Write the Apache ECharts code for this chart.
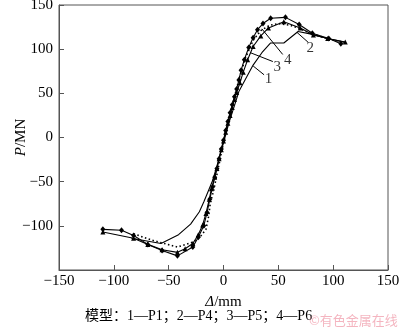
<!DOCTYPE html>
<html>
<head>
<meta charset="utf-8">
<script src="https://cdn.jsdelivr.net/npm/echarts@6/dist/echarts.min.js"></script>
<style>
  html, body { margin: 0; padding: 0; background: #fff; }
  #chart { width: 400px; height: 332px; }
</style>
</head>
<body>
<div id="chart"></div>
<script>
// Load–displacement curves (Δ in mm, P in MN) for the four models
const xTicks = [-150, -100, -50, 0, 50, 100, 150];
const yTicks = [-150, -100, -50, 0, 50, 100, 150];

// Model 1 — P1 (plain solid line)
const p1 = [
  [-84, -114], [-57, -120], [-41, -110], [-30, -98], [-22, -84], [-18, -73],
  [-13, -58], [-10, -49], [-5, -28], [0, -6], [5, 17], [10, 36], [14, 52],
  [20, 66], [27, 82], [35, 96], [43, 107], [55, 107], [68, 120], [80, 117],
  [95, 112], [110, 108]
];
// Model 2 — P4 (dotted line)
const p4 = [
  [-82, -109], [-66, -116], [-42, -124], [-27, -118], [-21, -112], [-16, -104],
  [-13.5, -89], [-12, -74], [-9, -60], [-5, -36], [0, -6], [5, 20], [10, 46],
  [15, 70], [20, 90], [27, 110], [34, 121], [42, 127], [50, 129], [61, 127],
  [70, 123], [79, 118], [95, 112], [108, 108]
];
// Model 3 — P5 (triangles)
const p5 = [
  [-110, -107], [-82, -114], [-69, -121], [-56, -127], [-42, -130], [-35, -126],
  [-28, -120], [-23, -110], [-19, -99], [-16, -86], [-13, -70], [-11, -58],
  [-8, -45], [-6, -35], [-4, -24], [-2, -14], [0, -4], [2, 6], [4, 16], [6, 25],
  [8, 34], [10, 43], [12, 51], [15, 62], [18, 74], [22, 88], [27, 103],
  [34, 115], [41, 124], [55, 131], [70, 124], [82, 116], [95, 112], [111, 108]
];
// Model 4 — P6 (diamonds)
const p6 = [
  [-110, -104], [-93, -105], [-82, -111], [-69, -121], [-56, -128], [-42, -134],
  [-28, -124], [-23, -113], [-18, -100], [-15, -85], [-12.5, -70], [-10, -56],
  [-8, -45], [-6, -35], [-4, -24], [-2, -13], [0, -3], [2, 8], [4, 18], [6, 28],
  [8, 37], [10, 46], [12, 55], [14, 65], [16, 76], [19, 88], [23, 102],
  [27, 113], [31, 122], [36, 129], [43, 135], [56.5, 136], [69, 128],
  [81, 118], [96, 112], [107, 106]
];

// Curve call-outs: leader line start/end and number position
const calloutNames = ['1', '2', '3', '4'];
const calloutLines = [
  [[27, 81], [37, 71]],
  [[67, 119], [77, 108]],
  [[24.5, 96], [45, 86]],
  [[35, 123], [54, 94]]
];
const calloutText = [[41, 66], [79, 101], [49, 80], [58.5, 88]];

const caption = '模型：1—P1；2—P4；3—P5；4—P6';
const watermark = '©有色金属在线';

const serif = '"Liberation Serif", "Times New Roman", serif';
const cjk = '"Liberation Serif", "Noto Sans CJK SC", serif';
const minus = v => String(v).replace('-', '\u2212');

const chart = echarts.init(document.getElementById('chart'), null, { renderer: 'canvas' });

const curve = (name, data, extra) => Object.assign({
  name, type: 'line', data,
  showSymbol: false, symbol: 'none',
  lineStyle: { color: '#000', width: 1.1 },
  itemStyle: { color: '#000' },
  animation: false, z: 3
}, extra || {});

const series = [
  curve('P1', p1),
  curve('P4', p4, { lineStyle: { color: '#000', width: 1.6, type: [1.5, 2.5] } }),
  curve('P5', p5, { showSymbol: true, symbol: 'triangle', symbolSize: 5 }),
  curve('P6', p6, { showSymbol: true, symbol: 'diamond', symbolSize: [5, 6] })
];

calloutLines.forEach(seg => {
  series.push({
    type: 'line', data: seg, symbol: 'none', silent: true, animation: false,
    lineStyle: { color: '#000', width: 1 }, z: 4
  });
});
series.push({
  type: 'scatter', symbolSize: 0, silent: true, animation: false,
  data: calloutText.map((p, i) => ({ value: p, name: calloutNames[i] })),
  label: {
    show: true, position: 'inside', formatter: p => p.name,
    fontFamily: serif, fontSize: 15, color: '#000'
  }
});

chart.setOption({
  animation: false,
  grid: {
    left: 59, right: 12, top: 5, bottom: 62,
    containLabel: false, outerBoundsMode: 'none',
    show: true, borderColor: '#555', borderWidth: 1
  },
  xAxis: {
    type: 'value', min: xTicks[0], max: xTicks[xTicks.length - 1], interval: 50,
    name: '{i|Δ}{n|/mm}', nameLocation: 'middle', nameGap: 25, nameMoveOverlap: false,
    nameTextStyle: {
      rich: {
        i: { fontFamily: serif, fontStyle: 'italic', fontSize: 15, color: '#000' },
        n: { fontFamily: serif, fontSize: 15, color: '#000' }
      }
    },
    axisLine: { onZero: false, lineStyle: { color: '#555' } },
    axisTick: { inside: true, length: 5, lineStyle: { color: '#555' } },
    axisLabel: { fontFamily: serif, fontSize: 15, color: '#000', margin: 4, formatter: minus },
    splitLine: { show: false }
  },
  yAxis: {
    type: 'value', min: yTicks[0], max: yTicks[yTicks.length - 1], interval: 50,
    name: '{i|P}{n|/MN}', nameLocation: 'middle', nameGap: 30, nameRotate: 90,
    nameMoveOverlap: false,
    nameTextStyle: {
      rich: {
        i: { fontFamily: serif, fontStyle: 'italic', fontSize: 15, color: '#000' },
        n: { fontFamily: serif, fontSize: 15, color: '#000' }
      }
    },
    axisLine: { onZero: false, lineStyle: { color: '#555' } },
    axisTick: { inside: true, length: 5, lineStyle: { color: '#555' } },
    axisLabel: {
      fontFamily: serif, fontSize: 15, color: '#000', margin: 6,
      formatter: v => (v === yTicks[0] ? '' : minus(v))
    },
    splitLine: { show: false }
  },
  graphic: [
    {
      type: 'text', left: 85, top: 309,
      style: { text: caption, font: '14px ' + cjk, fill: '#000' }
    },
    {
      type: 'text', left: 309, top: 314,
      style: { text: watermark, font: '13px "Noto Sans CJK SC", sans-serif', fill: 'rgba(235,120,140,0.55)' }
    }
  ],
  series
});
</script>
</body>
</html>
